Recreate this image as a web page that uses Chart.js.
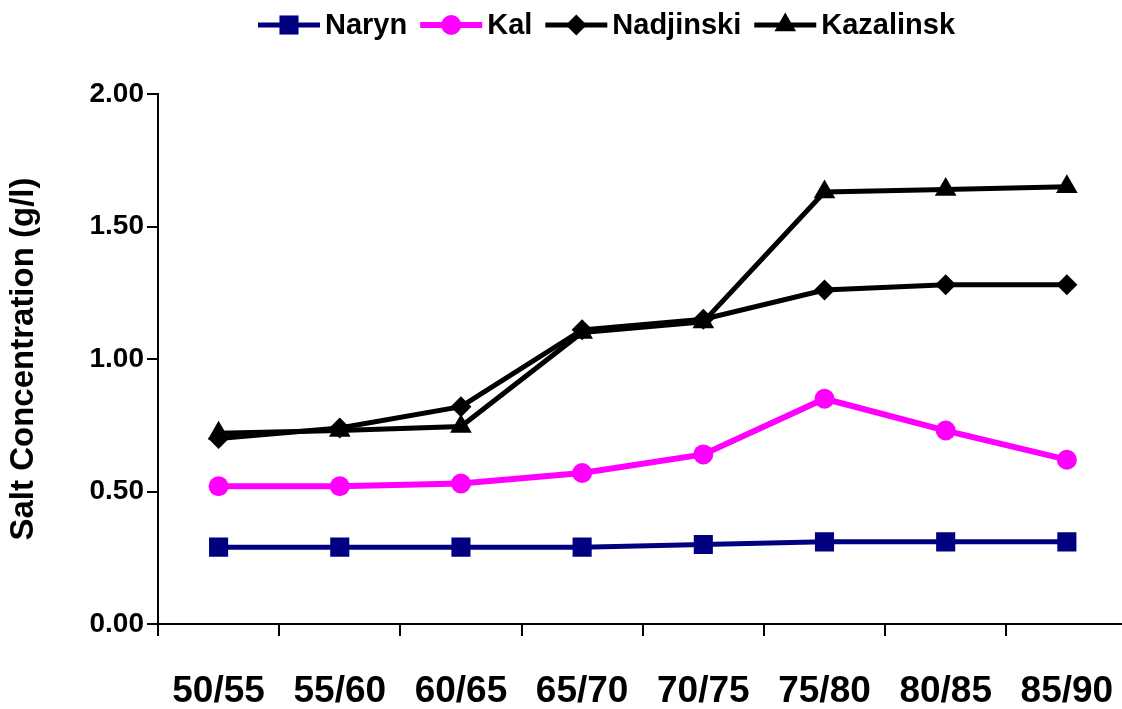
<!DOCTYPE html>
<html>
<head>
<meta charset="utf-8">
<script src="https://cdn.jsdelivr.net/npm/chart.js@4.4.1/dist/chart.umd.min.js"></script>
<style>
  html, body { margin: 0; padding: 0; background: #fff; overflow: hidden; }
  #wrap { width: 1148px; height: 709px; }
</style>
</head>
<body>
<div id="wrap"><canvas id="saltChart" width="1148" height="709"></canvas></div>
<script>
// Periods (x axis)
const periods = ['50/55', '55/60', '60/65', '65/70', '70/75', '75/80', '80/85', '85/90'];

// Salt concentration (g/l) per station
const naryn = [0.29, 0.29, 0.29, 0.29, 0.30, 0.31, 0.31, 0.31];
const kal = [0.52, 0.52, 0.53, 0.57, 0.64, 0.85, 0.73, 0.62];
const nadjinski = [0.70, 0.74, 0.82, 1.11, 1.15, 1.26, 1.28, 1.28];
const kazalinsk = [0.72, 0.73, 0.745, 1.10, 1.14, 1.63, 1.64, 1.65];

const yTicks = [0, 0.5, 1, 1.5, 2];

// Legend drawn as line + marker + text, like the original
const lineLegend = {
    id: 'lineLegend',
    afterDraw(chart) {
        const ctx = chart.ctx;
        let x = 258;
        const y = 25;
        ctx.save();
        ctx.font = 'bold 29px "Liberation Sans", Arial, sans-serif';
        ctx.textBaseline = 'middle';
        chart.data.datasets.forEach(ds => {
            ctx.strokeStyle = ds.borderColor;
            ctx.lineWidth = ds.borderWidth;
            ctx.beginPath();
            ctx.moveTo(x, y);
            ctx.lineTo(x + 62, y);
            ctx.stroke();
            ctx.fillStyle = ds.pointBackgroundColor;
            Chart.helpers.drawPoint(ctx, {
                pointStyle: ds.pointStyle,
                radius: ds.pointRadius,
                rotation: 0,
                borderWidth: 0
            }, x + 31, y);
            ctx.fillStyle = '#000';
            ctx.fillText(ds.label, x + 67, y + 1);
            x += 67 + ctx.measureText(ds.label).width + 13;
        });
        ctx.restore();
    }
};

const ctx = document.getElementById('saltChart').getContext('2d');
const saltChart = new Chart(ctx, {
    type: 'line',
    data: {
        labels: periods,
        datasets: [
            {
                label: 'Naryn',
                data: naryn,
                borderColor: '#000080',
                borderWidth: 5,
                pointStyle: 'rect',
                pointRadius: 13.5,
                pointBackgroundColor: '#000080',
                pointBorderWidth: 0,
                order: 4
            },
            {
                label: 'Kal',
                data: kal,
                borderColor: '#FF00FF',
                borderWidth: 6,
                pointStyle: 'circle',
                pointRadius: 10,
                pointBackgroundColor: '#FF00FF',
                pointBorderWidth: 0,
                order: 3
            },
            {
                label: 'Nadjinski',
                data: nadjinski,
                borderColor: '#000000',
                borderWidth: 5,
                pointStyle: 'rectRot',
                pointRadius: 10.5,
                pointBackgroundColor: '#000000',
                pointBorderWidth: 0,
                order: 2
            },
            {
                label: 'Kazalinsk',
                data: kazalinsk,
                borderColor: '#000000',
                borderWidth: 5,
                pointStyle: 'triangle',
                pointRadius: 12.5,
                pointBackgroundColor: '#000000',
                pointBorderWidth: 0,
                order: 1
            }
        ]
    },
    options: {
        responsive: false,
        animation: false,
        layout: { padding: { top: 94, right: 2, left: 0, bottom: 0 } },
        plugins: {
            legend: { display: false },
            tooltip: { enabled: false }
        },
        elements: { line: { tension: 0 } },
        scales: {
            x: {
                offset: true,
                grid: {
                    offset: true,
                    drawOnChartArea: false,
                    tickLength: 12,
                    color: '#000',
                    lineWidth: 2
                },
                border: { display: true, color: '#000', width: 2 },
                ticks: {
                    color: '#000',
                    padding: 34,
                    maxRotation: 0,
                    font: { family: '"Liberation Sans", Arial, sans-serif', size: 37, weight: 'bold' }
                },
                afterFit(scale) { scale.height = 85; }
            },
            y: {
                min: 0,
                max: 2,
                afterBuildTicks(scale) { scale.ticks = yTicks.map(v => ({ value: v })); },
                grid: {
                    drawOnChartArea: false,
                    tickLength: 11,
                    color: '#000',
                    lineWidth: 2
                },
                border: { display: true, color: '#000', width: 2 },
                ticks: {
                    color: '#000',
                    padding: 3,
                    font: { family: '"Liberation Sans", Arial, sans-serif', size: 28, weight: 'bold' },
                    callback: v => v.toFixed(2)
                },
                title: {
                    display: true,
                    text: 'Salt Concentration (g/l)',
                    color: '#000',
                    padding: { top: 4, bottom: 0 },
                    font: { family: '"Liberation Sans", Arial, sans-serif', size: 33, weight: 'bold' }
                },
                afterFit(scale) { scale.width = 158; }
            }
        }
    },
    plugins: [lineLegend]
});
</script>
</body>
</html>
